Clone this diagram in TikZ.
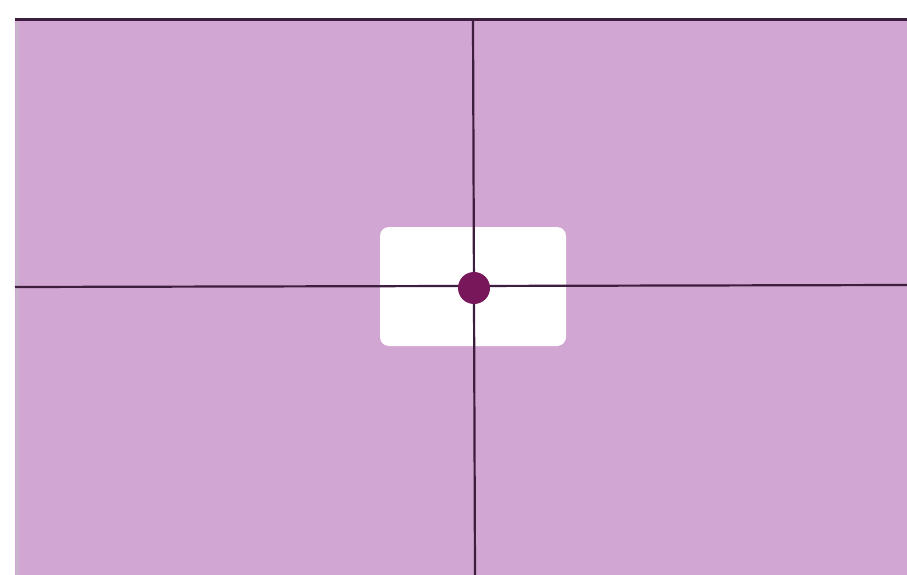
\documentclass[tikz,border=0pt]{standalone}
\definecolor{bgpink}{RGB}{210,166,210}
\definecolor{lineink}{RGB}{62,30,62}
\definecolor{dotink}{RGB}{120,24,90}
\definecolor{edgegray}{RGB}{200,180,205}
\begin{document}
\begin{tikzpicture}[x=1pt,y=-1pt,
  gridline/.style={draw=lineink,line width=2.2pt},
  card/.style={fill=white,rounded corners=9pt},
  pin/.style={circle,fill=dotink,inner sep=0pt,minimum size=32pt}]
\useasboundingbox (0,0) rectangle (907,575);
\fill[white] (0,0) rectangle (907,575);
\fill[bgpink] (15,20) rectangle (907,575);
\draw[edgegray,line width=3pt] (17,22) -- (17,575);
\draw[lineink,line width=3pt] (15,20) -- (907,20);
\fill[card] (380,227) rectangle (566,346);
\coordinate (top) at (473,20);
\coordinate (bottom) at (475,575);
\coordinate (left) at (15,287);
\coordinate (right) at (907,285);
\draw[gridline] (top) -- (bottom);
\draw[gridline] (left) -- (right);
\node[pin] (dot) at (474,288) {};
\end{tikzpicture}
\end{document}
